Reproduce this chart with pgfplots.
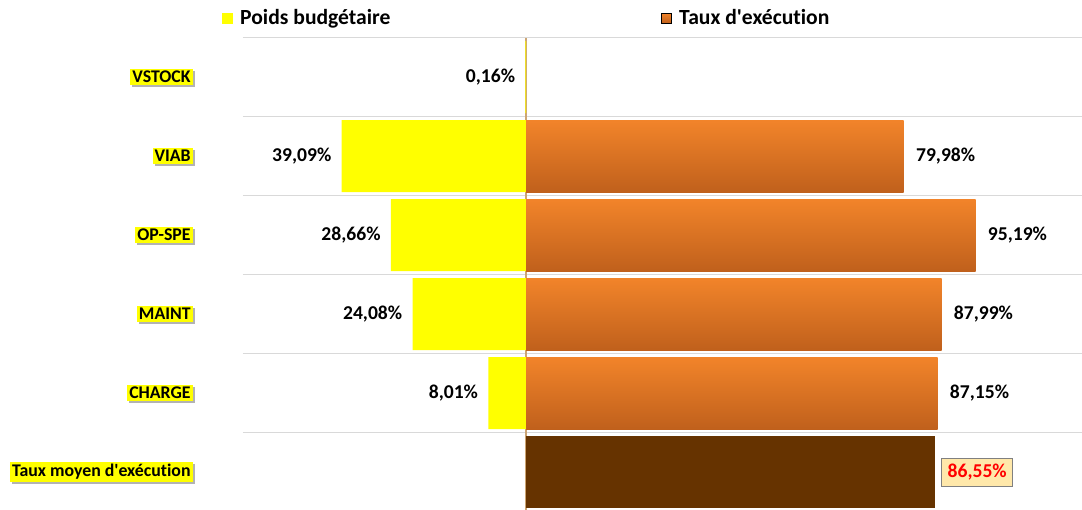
\documentclass[border=0pt]{standalone}
\usepackage{pgfplots}
\pgfplotsset{compat=1.18}
\usepackage{fontspec}
\setmainfont{Carlito}[Ligatures={NoCommon}]
\usetikzlibrary{shadows}
\definecolor{jaune}{RGB}{255,255,0}
\definecolor{orTop}{RGB}{242,132,42}
\definecolor{orMid}{RGB}{232,124,37}
\definecolor{orBot}{RGB}{192,96,28}
\definecolor{brun}{RGB}{102,51,0}
\definecolor{grille}{RGB}{217,217,217}
\definecolor{axe}{RGB}{205,165,115}
\definecolor{boite}{RGB}{255,232,170}

\begin{document}
\begin{tikzpicture}
\useasboundingbox (0,0) rectangle (541pt,254.5pt);
\begin{axis}[
  at={(121.5pt,-1.25pt)}, anchor=south west,
  scale only axis, width=419.5pt, height=237pt,
  xmin=-60, xmax=117.75, ymin=-0.5, ymax=5.5,
  xbar, bar width=36pt, bar shift=0pt,
  axis line style={draw=none},
  xtick=\empty,
  ytick={0,...,5},
  yticklabels={Taux moyen d\textquotesingle exécution, CHARGE, MAINT, OP-SPE, VIAB, VSTOCK},
  major tick length=0pt, minor tick length=0pt,
  minor ytick={-0.5,0.5,...,5.5},
  yminorgrids, minor grid style={grille, line width=0.6pt},
  extra x ticks={0}, extra x tick labels={},
  extra x tick style={grid=major, major grid style={axe, line width=1.2pt}},
  yticklabel style={font=\bfseries\fontsize{8.9}{10}\selectfont, fill=jaune,
    inner xsep=1pt, inner ysep=1.2pt, xshift=-25pt,
    drop shadow={shadow xshift=1pt, shadow yshift=-1pt, fill=black!50, opacity=0.6}},
  legend columns=2,
  legend style={draw=none, fill=none, at={(-0.025,1)}, anchor=west, yshift=9.75pt,
    font=\bfseries\fontsize{10.8}{12}\selectfont, inner sep=0pt,
    nodes={inner sep=0pt},
    /tikz/column sep=3.5pt,
    /tikz/every even column/.append style={column sep=135.5pt}},
]
% legende
\addlegendimage{legend image code/.code={\fill[jaune] (0pt,-2.5pt) rectangle (5pt,2.5pt);}}
\addlegendentry{Poids budgétaire}
\addlegendimage{legend image code/.code={\fill[top color=orTop,bottom color=orBot] (0pt,-2.5pt) rectangle (5pt,2.5pt);}}
\addlegendentry{Taux d\textquotesingle exécution}

% poids budgetaire (a gauche)
\addplot[fill=jaune, draw=none, forget plot, point meta=explicit symbolic, nodes near coords,
  every node near coord/.append style={anchor=east, xshift=-5pt, inner sep=0pt,
    font=\bfseries\fontsize{9.8}{11}\selectfont}]
  coordinates {(-0.16,5) [0,16\%] (-39.09,4) [39,09\%] (-28.66,3) [28,66\%]
               (-24.08,2) [24,08\%] (-8.01,1) [8,01\%]};

% taux d'execution (a droite)
\pgfplotsset{orbar/.style={top color=orTop, middle color=orMid, bottom color=orBot, draw=none,
  forget plot, point meta=explicit symbolic, nodes near coords,
  every node near coord/.append style={anchor=west, xshift=6pt, inner sep=0pt,
    font=\bfseries\fontsize{9.8}{11}\selectfont}}}
\addplot[orbar] coordinates {(79.98,4) [79,98\%]};
\addplot[orbar] coordinates {(95.19,3) [95,19\%]};
\addplot[orbar] coordinates {(87.99,2) [87,99\%]};
\addplot[orbar] coordinates {(87.15,1) [87,15\%]};

% taux moyen
\addplot[fill=brun, draw=none, forget plot, point meta=explicit symbolic, nodes near coords,
  every node near coord/.append style={anchor=west, xshift=3.25pt, fill=boite, draw=gray,
    text=red, inner xsep=3pt, inner ysep=3pt,
    font=\bfseries\fontsize{9.8}{11}\selectfont}]
  coordinates {(86.55,0) [86,55\%]};
\end{axis}
\end{tikzpicture}
\end{document}
